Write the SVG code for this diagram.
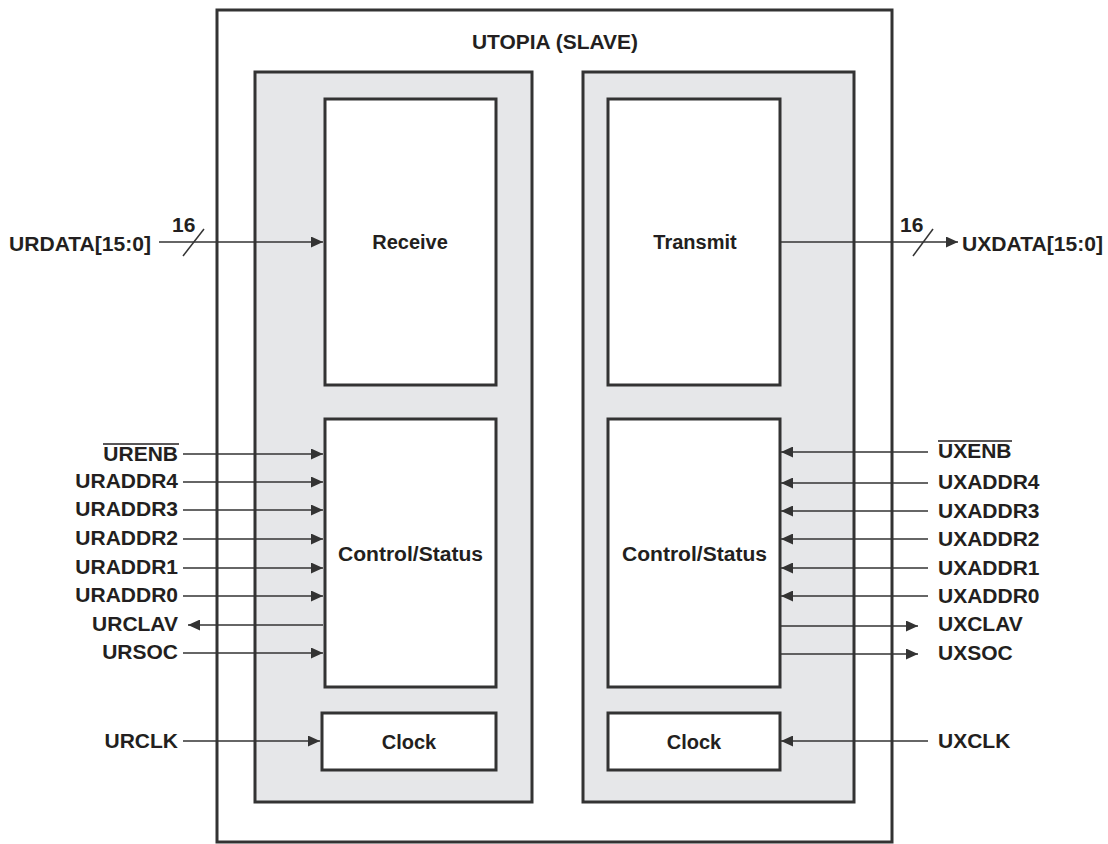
<svg xmlns="http://www.w3.org/2000/svg" width="1108" height="844" viewBox="0 0 1108 844">
<style>
.box{fill:#fff;stroke:#333;stroke-width:3}
.panel{fill:#e6e7e9;stroke:#333;stroke-width:3}
.ln{stroke:#333;stroke-width:1.5;fill:none}
text{font-family:"Liberation Sans",Arial,sans-serif;font-weight:bold;font-size:21px;fill:#231f20}
.bt{font-size:20px}
.c{text-anchor:middle}
.r{text-anchor:end}
.ov{stroke:#231f20;stroke-width:1.3}
</style>
<defs>
<marker id="ah" markerWidth="12" markerHeight="11" refX="12" refY="5.5" orient="auto" markerUnits="userSpaceOnUse">
<path d="M0,0 L12,5.5 L0,11 Z" fill="#333"/>
</marker>
</defs>
<rect width="1108" height="844" fill="#fff"/>
<g id="outer"><rect class="box" x="217" y="10" width="675" height="832"/>
<text class="c bt" x="555" y="49" textLength="166" lengthAdjust="spacingAndGlyphs">UTOPIA (SLAVE)</text></g>
<g id="panelL"><rect class="panel" x="255" y="72" width="277" height="730"/></g>
<g id="panelR"><rect class="panel" x="583" y="72" width="271" height="730"/></g>
<g id="receive"><rect class="box" x="325" y="99" width="171" height="286"/><text class="c bt" x="410" y="249">Receive</text></g>
<g id="transmit"><rect class="box" x="608" y="99" width="172" height="286"/><text class="c bt" x="695" y="249">Transmit</text></g>
<g id="ctrlL"><rect class="box" x="325" y="419" width="171" height="268"/><text class="c bt" x="410.5" y="561" textLength="145" lengthAdjust="spacingAndGlyphs">Control/Status</text></g>
<g id="ctrlR"><rect class="box" x="608" y="419" width="172" height="268"/><text class="c bt" x="694.5" y="561" textLength="145" lengthAdjust="spacingAndGlyphs">Control/Status</text></g>
<g id="clockL"><rect class="box" x="322" y="713" width="174" height="57"/><text class="c bt" x="409" y="749">Clock</text></g>
<g id="clockR"><rect class="box" x="608" y="713" width="172" height="57"/><text class="c bt" x="694" y="749">Clock</text></g>
<g id="connectors">
<line class="ln" x1="159" y1="242" x2="323" y2="242" marker-end="url(#ah)"/>
<line class="ln" x1="183" y1="256" x2="204" y2="229"/>
<line class="ln" x1="780" y1="242" x2="958" y2="242" marker-end="url(#ah)"/>
<line class="ln" x1="913" y1="256" x2="933" y2="229"/>
<line class="ln" x1="183" y1="454" x2="323" y2="454" marker-end="url(#ah)"/>
<line class="ln" x1="183" y1="482" x2="323" y2="482" marker-end="url(#ah)"/>
<line class="ln" x1="183" y1="510" x2="323" y2="510" marker-end="url(#ah)"/>
<line class="ln" x1="183" y1="539" x2="323" y2="539" marker-end="url(#ah)"/>
<line class="ln" x1="183" y1="568" x2="323" y2="568" marker-end="url(#ah)"/>
<line class="ln" x1="183" y1="596" x2="323" y2="596" marker-end="url(#ah)"/>
<line class="ln" x1="323" y1="625" x2="188" y2="625" marker-end="url(#ah)"/>
<line class="ln" x1="183" y1="653" x2="323" y2="653" marker-end="url(#ah)"/>
<line class="ln" x1="183" y1="741" x2="320" y2="741" marker-end="url(#ah)"/>
<line class="ln" x1="928" y1="452" x2="781" y2="452" marker-end="url(#ah)"/>
<line class="ln" x1="928" y1="483" x2="781" y2="483" marker-end="url(#ah)"/>
<line class="ln" x1="928" y1="511" x2="781" y2="511" marker-end="url(#ah)"/>
<line class="ln" x1="928" y1="539" x2="781" y2="539" marker-end="url(#ah)"/>
<line class="ln" x1="928" y1="568" x2="781" y2="568" marker-end="url(#ah)"/>
<line class="ln" x1="928" y1="596" x2="781" y2="596" marker-end="url(#ah)"/>
<line class="ln" x1="780" y1="626" x2="918" y2="626" marker-end="url(#ah)"/>
<line class="ln" x1="780" y1="654" x2="918" y2="654" marker-end="url(#ah)"/>
<line class="ln" x1="928" y1="741" x2="781" y2="741" marker-end="url(#ah)"/>
</g>
<g id="labels">
<text class="r" x="151" y="251" textLength="142" lengthAdjust="spacingAndGlyphs">URDATA[15:0]</text>
<text x="172" y="232">16</text>
<text x="962" y="251" textLength="141" lengthAdjust="spacingAndGlyphs">UXDATA[15:0]</text>
<text x="900" y="232">16</text>
<text class="r" x="178" y="461">URENB</text>
<line class="ov" x1="103" y1="444" x2="179" y2="444"/>
<text class="r" x="178" y="488">URADDR4</text>
<text class="r" x="178" y="516">URADDR3</text>
<text class="r" x="178" y="545">URADDR2</text>
<text class="r" x="178" y="574">URADDR1</text>
<text class="r" x="178" y="602">URADDR0</text>
<text class="r" x="178" y="631">URCLAV</text>
<text class="r" x="178" y="659">URSOC</text>
<text class="r" x="178" y="748">URCLK</text>
<text x="938" y="458">UXENB</text>
<line class="ov" x1="938" y1="441" x2="1012" y2="441"/>
<text x="938" y="489">UXADDR4</text>
<text x="938" y="518">UXADDR3</text>
<text x="938" y="546">UXADDR2</text>
<text x="938" y="575">UXADDR1</text>
<text x="938" y="603">UXADDR0</text>
<text x="938" y="631">UXCLAV</text>
<text x="938" y="660">UXSOC</text>
<text x="938" y="748">UXCLK</text>
</g>
</svg>
